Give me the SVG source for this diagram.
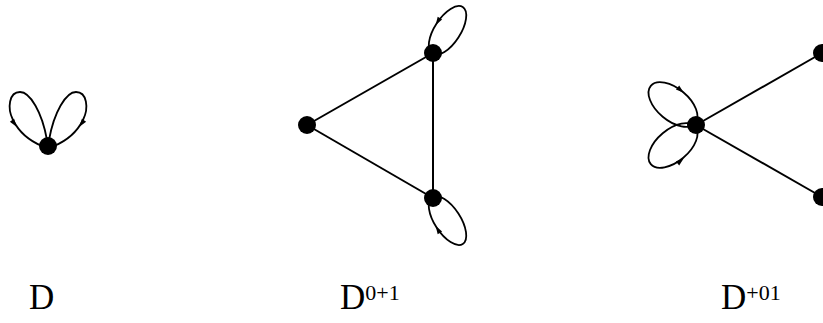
<svg xmlns="http://www.w3.org/2000/svg" xmlns:xlink="http://www.w3.org/1999/xlink" width="823" height="323" viewBox="0 0 823 323">
<style>
.edge{stroke:#000;stroke-width:2;fill:none}
.loop{stroke:#000;stroke-width:1.8;fill:none}
.node{fill:#000}
.lbl{font-family:"Liberation Serif","Times New Roman",serif;font-size:35px;fill:#000}
.sup{font-size:22px}
</style>
<defs>
<path id="ah" d="M1,0 L-7,-2.6 L-7,2.6 Z" fill="#000"/>
</defs>
<rect width="823" height="323" fill="#fff"/>
<g id="connectors">
<line class="edge" x1="307" y1="125" x2="433" y2="53"/>
<line class="edge" x1="307" y1="125" x2="433" y2="198"/>
<line class="edge" x1="433" y1="53" x2="433" y2="198"/>
<line class="edge" x1="696" y1="125" x2="822" y2="53"/>
<line class="edge" x1="696" y1="125" x2="822" y2="197"/>
<path class="loop" d="M47,140 C42,112 30,92 20,92 C9,92 7,108 13,120 C19,132 30,141 42,146"/>
<path class="loop" d="M49,140 C54,112 66,92 76,92 C87,92 89,108 83,120 C77,132 66,141 54,146"/>
<use xlink:href="#ah" transform="translate(16 126) rotate(55)"/>
<use xlink:href="#ah" transform="translate(80 126) rotate(125)"/>
<ellipse class="loop" cx="447.5" cy="30.5" rx="28" ry="13" transform="rotate(-57 447.5 30.5)"/>
<ellipse class="loop" cx="447.5" cy="220.5" rx="28" ry="13" transform="rotate(57 447.5 220.5)"/>
<use xlink:href="#ah" transform="translate(436.2 24.1) rotate(122)"/>
<use xlink:href="#ah" transform="translate(436.2 226.9) rotate(-122)"/>
<ellipse class="loop" cx="673" cy="104.5" rx="29" ry="16" transform="rotate(40 673 104.5)"/>
<ellipse class="loop" cx="673" cy="145.5" rx="29" ry="16" transform="rotate(-40 673 145.5)"/>
<use xlink:href="#ah" transform="translate(683 92) rotate(39)"/>
<use xlink:href="#ah" transform="translate(683 159) rotate(-39)"/>
</g>
<g id="n-D"><circle class="node" cx="48" cy="146" r="9"/></g>
<g id="n-A1"><circle class="node" cx="307" cy="125" r="9"/></g>
<g id="n-A2"><circle class="node" cx="433" cy="53" r="9"/></g>
<g id="n-A3"><circle class="node" cx="433" cy="198" r="9"/></g>
<g id="n-B1"><circle class="node" cx="696" cy="125" r="9"/></g>
<g id="n-B2"><circle class="node" cx="822" cy="53" r="9"/></g>
<g id="n-B3"><circle class="node" cx="822" cy="197" r="9"/></g>
<g id="labels">
<text class="lbl" x="29" y="309">D</text>
<text class="lbl" x="340" y="309">D<tspan class="sup" dy="-9">0+1</tspan></text>
<text class="lbl" x="721" y="309">D<tspan class="sup" dy="-9">+01</tspan></text>
</g>
</svg>
